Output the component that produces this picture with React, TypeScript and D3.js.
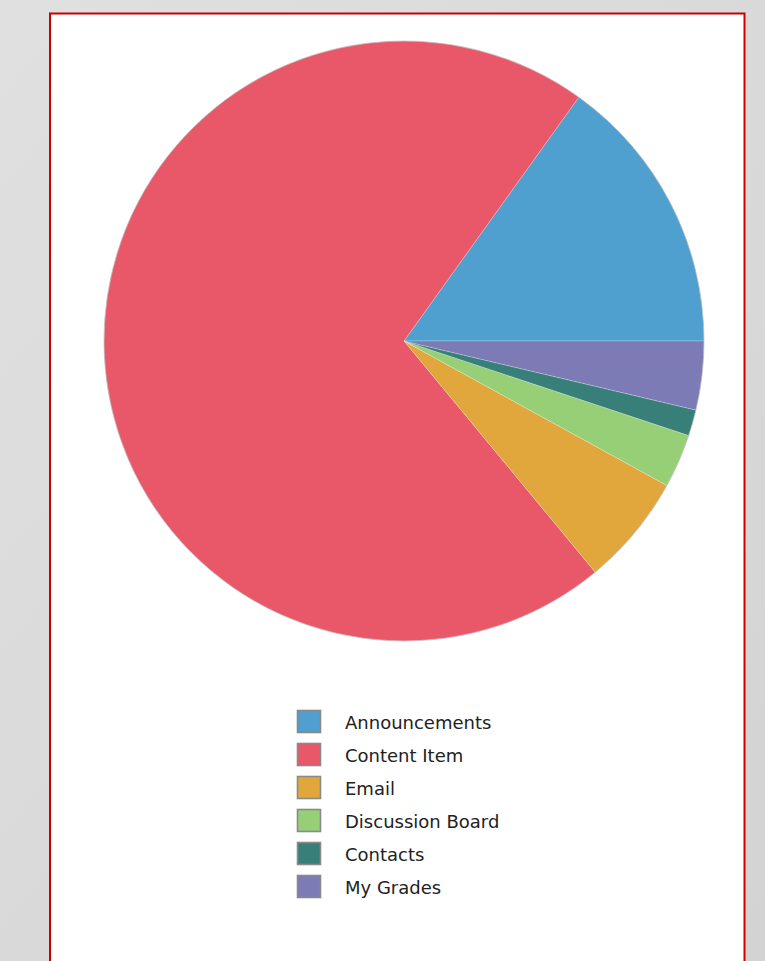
import React from "react";
import * as d3 from "d3";

const categories = ["Announcements", "Content Item", "Email", "Discussion Board", "Contacts", "My Grades"];
const values = [15.1, 70.9, 6.0, 2.9, 1.4, 3.7];
const colors = ["#4f9fcf", "#e85868", "#e1a63c", "#97cf77", "#387f79", "#7c7bb5"];

export default function App() {
  const W = 765, H = 961;
  const cx = 404, cy = 341, R = 300;
  const pie = d3.pie<number>().sort(null).startAngle(Math.PI / 2).endAngle(Math.PI / 2 - 2 * Math.PI);
  const arcs = pie(values);
  const arc = d3.arc<d3.PieArcDatum<number>>().innerRadius(0).outerRadius(R);
  const legendY = d3.scaleBand<string>().domain(categories).range([705, 903]);
  return (
    <svg width={W} height={H} style={{ position: "absolute", left: 0, top: 0 }}>
      <defs>
        <linearGradient id="bg" x1="0" y1="0" x2="1" y2="1">
          <stop offset="0" stopColor="#e0e0e0" />
          <stop offset="1" stopColor="#d3d3d3" />
        </linearGradient>
      </defs>
      <rect width={W} height={H} fill="url(#bg)" />
      <rect x={50} y={13.5} width={694.5} height={H + 20} fill="#ffffff" stroke="#cc0000" strokeWidth={2} />
      <g transform={`translate(${cx},${cy})`}>
        {arcs.map((a, i) => (
          <path key={categories[i]} d={arc(a) || ""} fill={colors[i]} stroke="#ffffff" strokeWidth={0.4} strokeOpacity={0.6} />
        ))}
        <circle r={R} fill="none" stroke="#b0b0b0" strokeWidth={0.6} />
      </g>
      <g fontFamily="DejaVu Sans" fontSize={18} fill="#222">
        {categories.map((c, i) => {
          const y = legendY(c)!;
          return (
            <g key={c}>
              <rect x={297.5} y={y + 5.5} width={23} height={22} fill={colors[i]} stroke="#8a8a8a" strokeWidth={1.6} />
              <text x={345} y={y + 23.5} >{c}</text>
            </g>
          );
        })}
      </g>
    </svg>
  );
}
